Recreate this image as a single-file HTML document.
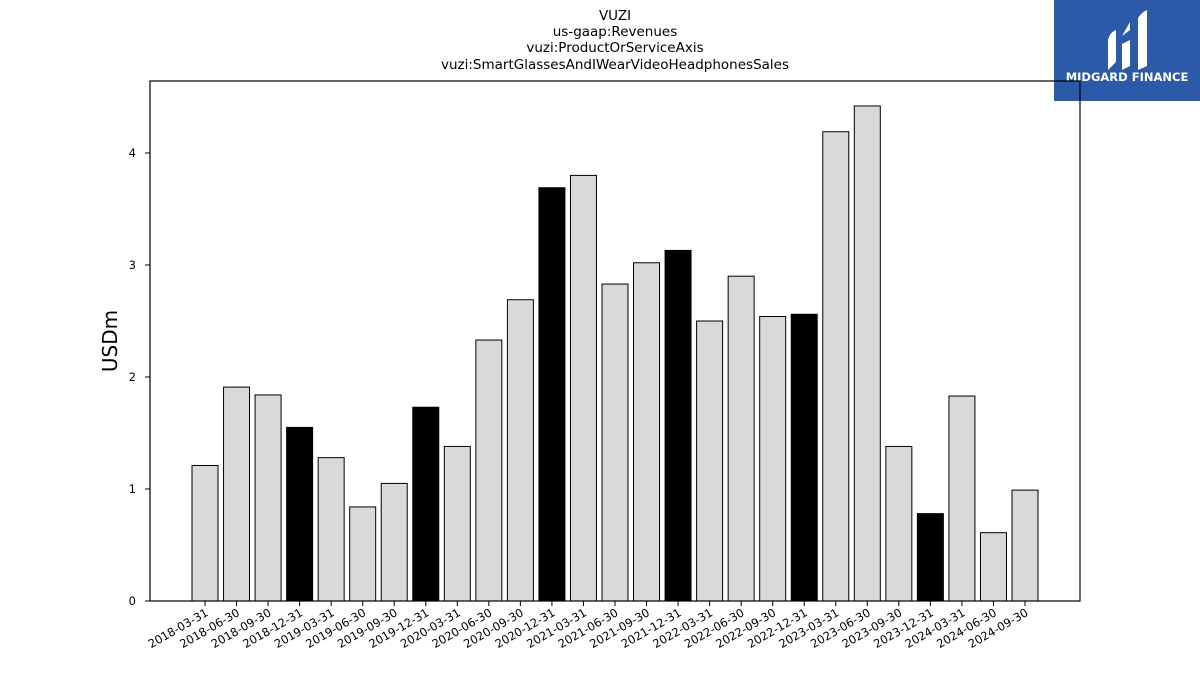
<!DOCTYPE html>
<html><head><meta charset="utf-8"><style>
html,body{margin:0;padding:0;background:#fff;width:1200px;height:675px;overflow:hidden;font-family:"Liberation Sans","DejaVu Sans",sans-serif;}
</style></head><body>
<svg id="chart" width="1200" height="675" xmlns="http://www.w3.org/2000/svg" font-family="DejaVu Sans, Liberation Sans, sans-serif">
<g font-size="13.5" text-anchor="middle" fill="#000">
<text x="615" y="20">VUZI</text>
<text x="615" y="36">us-gaap:Revenues</text>
<text x="615" y="52">vuzi:ProductOrServiceAxis</text>
<text x="615" y="69">vuzi:SmartGlassesAndIWearVideoHeadphonesSales</text>
</g>
<g>
<rect x="1054" y="0" width="146" height="101" fill="#2c5aa8"/>
<path d="M1108 70 L1108 40 Q1110 32 1116 30 L1116 62 Z M1122 70 L1122 44 L1130 40 L1130 66 Z M1138 70 L1138 18 Q1142 12 1147 10 L1147 66 Z M1122 36 L1130 22 L1130 30 Z" fill="#fff"/>
<text x="1127" y="81" font-size="11.5" font-weight="bold" fill="#fff" text-anchor="middle">MIDGARD FINANCE</text>
</g>
<g id="plot"></g>
<text x="117" y="341" font-size="20" text-anchor="middle" transform="rotate(-90 117 341)">USDm</text>
</svg>
<script>
const categories=["2018-03-31","2018-06-30","2018-09-30","2018-12-31","2019-03-31","2019-06-30","2019-09-30","2019-12-31","2020-03-31","2020-06-30","2020-09-30","2020-12-31","2021-03-31","2021-06-30","2021-09-30","2021-12-31","2022-03-31","2022-06-30","2022-09-30","2022-12-31","2023-03-31","2023-06-30","2023-09-30","2023-12-31","2024-03-31","2024-06-30","2024-09-30"];
const values=[1.21,1.91,1.84,1.55,1.28,0.84,1.05,1.73,1.38,2.33,2.69,3.69,3.80,2.83,3.02,3.13,2.50,2.90,2.54,2.56,4.19,4.42,1.38,0.78,1.83,0.61,0.99];
const yTicks=[0,1,2,3,4];
const NS="http://www.w3.org/2000/svg";
const g=document.getElementById('plot');
const L=150,R=1080,T=81,B=601;
const y=v=>B-v*112;
const step=(1025-205)/(categories.length-1);
const x=i=>205+i*step;
const bw=26;
function mk(t,a){const e=document.createElementNS(NS,t);for(const k in a)e.setAttribute(k,a[k]);g.appendChild(e);return e;}
categories.forEach((c,i)=>{
  const q=c.slice(5)==="12-31";
  const r=mk('rect',{x:x(i)-bw/2,y:y(values[i]),width:bw,height:B-y(values[i]),fill:q?'#000':'#d9d9d9',stroke:'#000','stroke-width':1});
  
  
  const tk=mk('line',{x1:x(i),x2:x(i),y1:B,y2:B+5,stroke:'#000'});
  
  
  const t=mk('text',{x:x(i)+4,y:B+14,'font-size':11.5,'text-anchor':'end',transform:`rotate(-30 ${x(i)+4} ${B+14})`});
  t.textContent=c;
  
  
});
yTicks.forEach(v=>{
  const tk=mk('line',{x1:L-5,x2:L,y1:y(v),y2:y(v),stroke:'#000'});
  
  
  const t=mk('text',{x:L-14,y:y(v)+4,'font-size':11.5,'text-anchor':'end'});
  t.textContent=v;
  
  
});
const fr=mk('rect',{x:L,y:T,width:R-L,height:B-T,fill:'none',stroke:'#000','stroke-width':1.2});


</script>
</body></html>
